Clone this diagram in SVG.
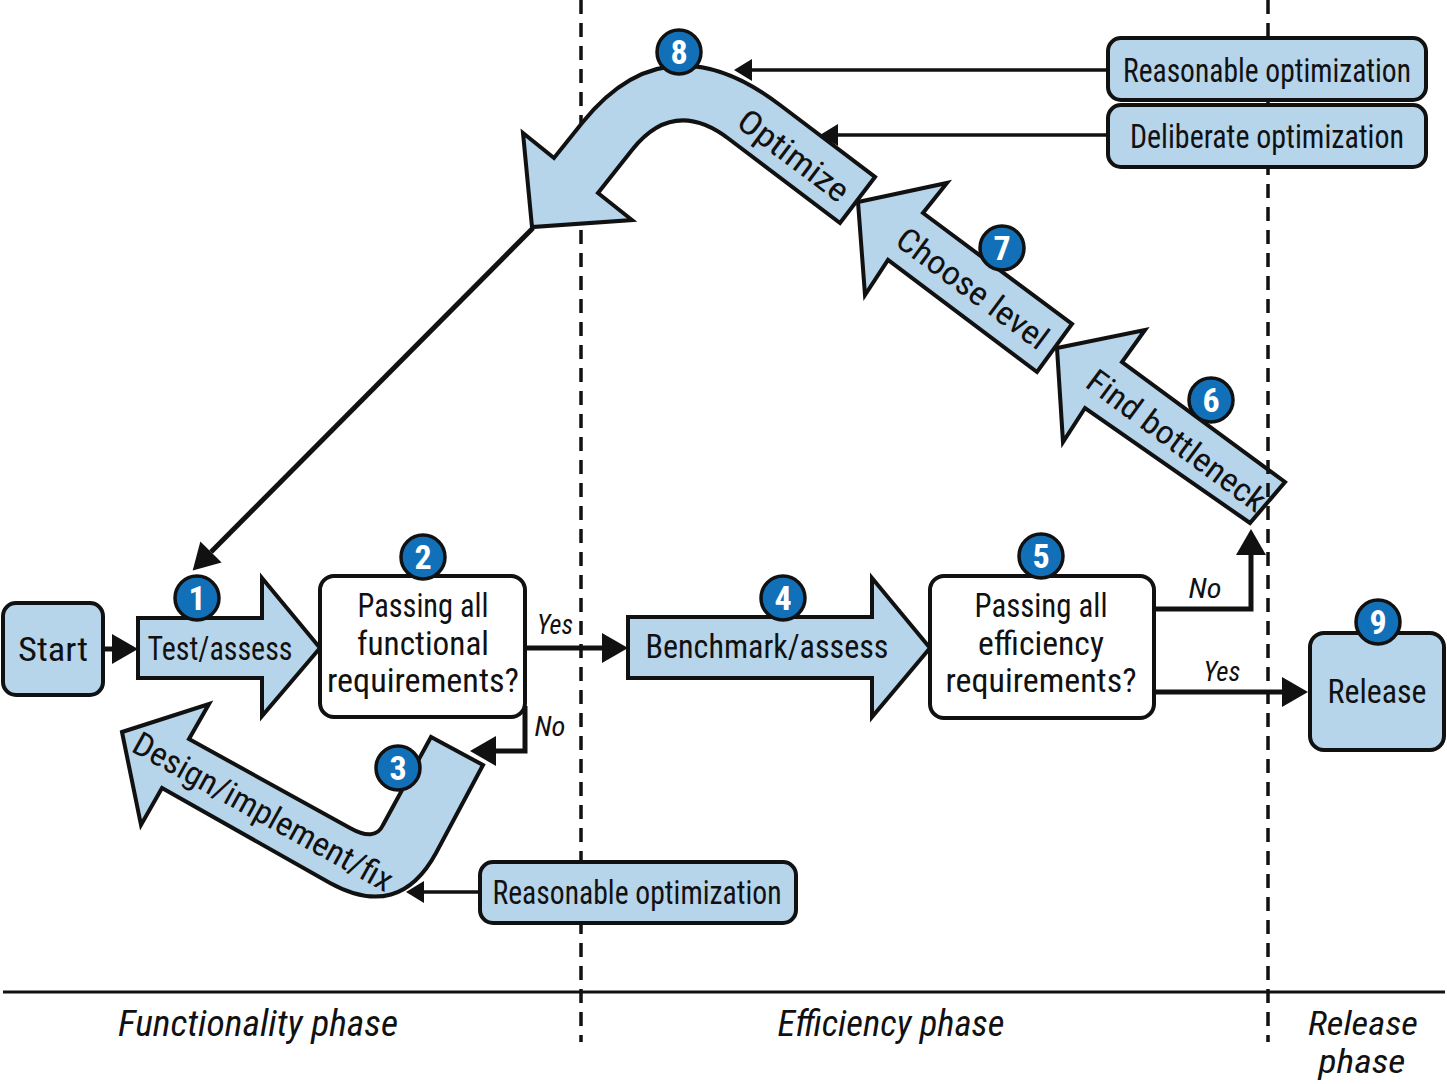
<svg xmlns="http://www.w3.org/2000/svg" width="1447" height="1084" viewBox="0 0 1447 1084">
<defs>
<style>
.bg{fill:#ffffff}
.blk{fill:#b6d4ea;stroke:#111;stroke-width:4;stroke-linejoin:miter}
.box{fill:#b6d4ea;stroke:#111;stroke-width:4}
.wbox{fill:#ffffff;stroke:#111;stroke-width:4}
.t{font-family:"Liberation Sans Narrow","Roboto Condensed","DejaVu Sans Condensed","Liberation Sans",sans-serif;font-size:33px;fill:#111;text-anchor:middle}
.it{font-style:italic}
.lbl{font-size:28px}
.ph{font-size:37px}
.ph2{font-size:34px}
.num circle{fill:#1170b8;stroke:#111;stroke-width:3.5}
.num text{font-family:"Liberation Sans Narrow","Roboto Condensed","Liberation Sans",sans-serif;font-size:34px;fill:#fff;text-anchor:middle;font-weight:bold}
.c{fill:none;stroke:#111;stroke-width:5}
.c3{fill:none;stroke:#111;stroke-width:3.5}
.dash{fill:none;stroke:#111;stroke-width:3.5;stroke-dasharray:14 9}
</style>
<marker id="big" markerUnits="userSpaceOnUse" markerWidth="26" markerHeight="30" refX="0" refY="15" orient="auto" overflow="visible"><path d="M0,0 L26,15 L0,30 Z" fill="#111"/></marker>
<marker id="sm" markerUnits="userSpaceOnUse" markerWidth="18" markerHeight="22" refX="0" refY="11" orient="auto" overflow="visible"><path d="M0,0 L18,11 L0,22 Z" fill="#111"/></marker>
</defs>
<rect class="bg" x="0" y="0" width="1447" height="1084"/>

<g id="phases">
<line class="dash" x1="581" y1="0" x2="581" y2="1042"/>
<line x1="3" y1="992" x2="1445" y2="992" stroke="#111" stroke-width="3"/>
<text class="t it ph" x="258" y="1036" textLength="280" lengthAdjust="spacingAndGlyphs">Functionality phase</text>
<text class="t it ph" x="891" y="1036" textLength="227" lengthAdjust="spacingAndGlyphs">Efficiency phase</text>
<text class="t it ph2" x="1363" y="1035" textLength="110" lengthAdjust="spacingAndGlyphs">Release</text>
<text class="t it ph2" x="1362" y="1073" textLength="87" lengthAdjust="spacingAndGlyphs">phase</text>
</g>

<g id="connectors">
<path class="c" d="M103,649 H112" marker-end="url(#big)"/>
<path class="c" d="M525,648 H602" marker-end="url(#big)"/>
<path class="c" d="M525,706 V751 H496" marker-end="url(#big)"/>
<path class="c" d="M1154,692 H1282" marker-end="url(#big)"/>
<path class="c" d="M1154,609 H1251 V555" marker-end="url(#big)"/>
<path class="c" d="M533,228 L211,552" stroke-width="4.5" marker-end="url(#big)"/>
<path class="c3" d="M480,892 H424" marker-end="url(#sm)"/>
<path class="c3" d="M1108,70 H752" marker-end="url(#sm)"/>
<path class="c3" d="M1108,135 H838" marker-end="url(#sm)"/>
<text class="t it lbl" x="555" y="634" textLength="36" lengthAdjust="spacingAndGlyphs">Yes</text>
<text class="t it lbl" x="550" y="736" textLength="31" lengthAdjust="spacingAndGlyphs">No</text>
<text class="t it lbl" x="1205" y="598" textLength="33" lengthAdjust="spacingAndGlyphs">No</text>
<text class="t it lbl" x="1222" y="681" textLength="37" lengthAdjust="spacingAndGlyphs">Yes</text>
</g>

<g id="start">
<rect class="box" x="3" y="603" width="100" height="92" rx="13"/>
<text class="t" x="53" y="661" font-size="35" textLength="70" lengthAdjust="spacingAndGlyphs">Start</text>
</g>

<g id="n1">
<polygon class="blk" points="138,618 262,618 262,578 320,648 262,716 262,678 138,678"/>
<text class="t" x="220" y="660" textLength="145" lengthAdjust="spacingAndGlyphs">Test/assess</text>
</g>

<g id="n2">
<rect class="wbox" x="320" y="576" width="205" height="141" rx="14"/>
<text class="t" x="423" y="617" textLength="131" lengthAdjust="spacingAndGlyphs">Passing all</text>
<text class="t" x="423" y="655" textLength="132" lengthAdjust="spacingAndGlyphs">functional</text>
<text class="t" x="423" y="692" textLength="192" lengthAdjust="spacingAndGlyphs">requirements?</text>
</g>

<g id="n3">
<path class="blk" d="M122,732 L209,704 L189,739 L350,828 Q375,842 383,825 L431,737 L483,765 L436,853 Q399,921 330,883 L162,788 L141,825 Z"/>
<text class="t" transform="translate(263,812) rotate(29)" x="0" y="11" textLength="292" lengthAdjust="spacingAndGlyphs">Design/implement/fix</text>
</g>

<g id="reasonable-bottom">
<rect class="box" x="480" y="862" width="316" height="61" rx="13"/>
<text class="t" x="637" y="904" font-size="31" textLength="289" lengthAdjust="spacingAndGlyphs">Reasonable optimization</text>
</g>

<g id="n4">
<polygon class="blk" points="628,617 872,617 872,578 930,648 872,717 872,678 628,678"/>
<text class="t" x="767" y="658" textLength="243" lengthAdjust="spacingAndGlyphs">Benchmark/assess</text>
</g>

<g id="n5">
<rect class="wbox" x="930" y="576" width="224" height="142" rx="14"/>
<text class="t" x="1041" y="617" textLength="133" lengthAdjust="spacingAndGlyphs">Passing all</text>
<text class="t" x="1041" y="655" textLength="126" lengthAdjust="spacingAndGlyphs">efficiency</text>
<text class="t" x="1041" y="692" textLength="191" lengthAdjust="spacingAndGlyphs">requirements?</text>
</g>

<g id="n6">
<polygon class="blk" points="1057,348 1145,330 1122,362 1285,482 1250,523 1085,408 1063,442"/>
<text class="t" transform="translate(1177,440) rotate(36.5)" x="0" y="12" textLength="214" lengthAdjust="spacingAndGlyphs">Find bottleneck</text>
</g>

<g id="release-divider">
<line class="dash" x1="1268" y1="0" x2="1268" y2="1042"/>
</g>

<g id="n7">
<polygon class="blk" points="858,202 947,183 923,213 1072,324 1037,372 888,260 865,295"/>
<text class="t" transform="translate(973,288) rotate(36.5)" x="0" y="12" textLength="180" lengthAdjust="spacingAndGlyphs">Choose level</text>
</g>

<g id="n8">
<path class="blk" d="M875,177 L840,223 L729,139 Q674,97 632,150 L598,193 L632,220 L532,227 L523,133 L554,158 L582,123 Q666,18 780,105 Z"/>
<text class="t" transform="translate(794,155) rotate(37)" x="0" y="12" textLength="130" lengthAdjust="spacingAndGlyphs">Optimize</text>
</g>

<g id="reasonable-top">
<rect class="box" x="1108" y="38" width="318" height="62" rx="13"/>
<text class="t" x="1267" y="82" font-size="31" textLength="288" lengthAdjust="spacingAndGlyphs">Reasonable optimization</text>
</g>

<g id="deliberate">
<rect class="box" x="1108" y="105" width="318" height="62" rx="13"/>
<text class="t" x="1267" y="148" font-size="31" textLength="274" lengthAdjust="spacingAndGlyphs">Deliberate optimization</text>
</g>

<g id="n9">
<rect class="box" x="1310" y="633" width="134" height="117" rx="14"/>
<text class="t" x="1377" y="703" textLength="99" lengthAdjust="spacingAndGlyphs">Release</text>
</g>

<g id="badges" class="num">
<g id="b1"><circle cx="197" cy="598" r="22"/><text x="197" y="610">1</text></g>
<g id="b2"><circle cx="423" cy="557" r="22"/><text x="423" y="569">2</text></g>
<g id="b3"><circle cx="398" cy="768" r="22"/><text x="398" y="780">3</text></g>
<g id="b4"><circle cx="783" cy="598" r="22"/><text x="783" y="610">4</text></g>
<g id="b5"><circle cx="1041" cy="556" r="22"/><text x="1041" y="568">5</text></g>
<g id="b6"><circle cx="1211" cy="400" r="22"/><text x="1211" y="412">6</text></g>
<g id="b7"><circle cx="1002" cy="248" r="22"/><text x="1002" y="260">7</text></g>
<g id="b8"><circle cx="679" cy="52" r="22"/><text x="679" y="64">8</text></g>
<g id="b9"><circle cx="1378" cy="622" r="22"/><text x="1378" y="634">9</text></g>
</g>
</svg>
